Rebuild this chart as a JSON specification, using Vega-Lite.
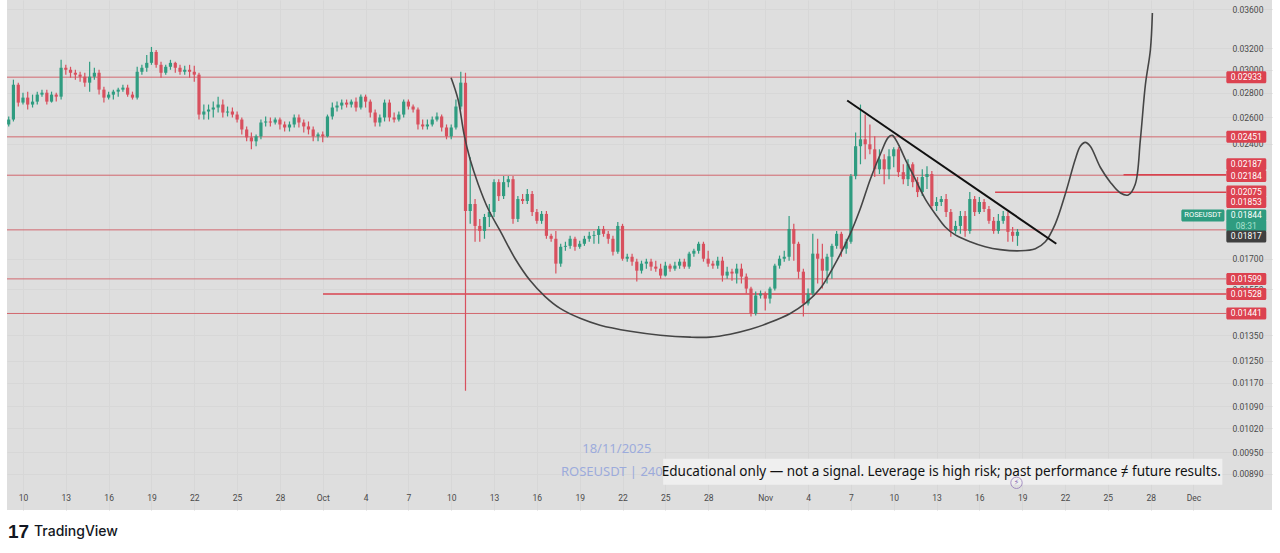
{"$schema":"https://vega.github.io/schema/vega-lite/v6.json","width":1265,"height":510,"autosize":{"type":"none"},"padding":{"left":7,"top":0,"right":8,"bottom":43},"background":"#ffffff","view":{"fill":"#dedede","stroke":null},"config":{"text":{"font":"Roboto"}},"datasets":{"candles":[
{"d":-1,"o":0.02544,"c":0.02582,"h":0.02606,"l":0.02529},{"d":-0.67,"o":0.02582,"c":0.02867,"h":0.02911,"l":0.02567},{"d":-0.33,"o":0.02867,"c":0.02717,"h":0.02885,"l":0.02685},{"d":0,"o":0.02717,"c":0.02758,"h":0.02799,"l":0.02701},{"d":0.33,"o":0.02758,"c":0.02701,"h":0.02808,"l":0.02661},{"d":0.67,"o":0.02701,"c":0.02725,"h":0.02783,"l":0.02677},{"d":1,"o":0.02725,"c":0.02783,"h":0.02808,"l":0.02701},{"d":1.33,"o":0.02783,"c":0.02799,"h":0.02825,"l":0.02766},{"d":1.67,"o":0.02799,"c":0.02725,"h":0.02825,"l":0.02701},{"d":2,"o":0.02725,"c":0.02783,"h":0.02808,"l":0.02717},{"d":2.33,"o":0.02783,"c":0.02766,"h":0.02799,"l":0.02725},{"d":2.67,"o":0.02766,"c":0.03017,"h":0.0309,"l":0.02742},{"d":3,"o":0.03017,"c":0.02999,"h":0.03044,"l":0.02955},{"d":3.33,"o":0.02999,"c":0.02972,"h":0.03026,"l":0.02928},{"d":3.67,"o":0.02972,"c":0.02955,"h":0.02999,"l":0.02911},{"d":4,"o":0.02955,"c":0.02937,"h":0.02981,"l":0.02893},{"d":4.33,"o":0.02937,"c":0.02885,"h":0.02972,"l":0.0285},{"d":4.67,"o":0.02885,"c":0.02937,"h":0.03071,"l":0.02808},{"d":5,"o":0.02937,"c":0.02972,"h":0.03017,"l":0.02911},{"d":5.33,"o":0.02972,"c":0.02825,"h":0.02999,"l":0.02783},{"d":5.67,"o":0.02825,"c":0.02758,"h":0.0285,"l":0.02717},{"d":6,"o":0.02758,"c":0.02783,"h":0.02808,"l":0.02742},{"d":6.33,"o":0.02783,"c":0.02808,"h":0.02825,"l":0.02742},{"d":6.67,"o":0.02808,"c":0.02825,"h":0.02842,"l":0.02766},{"d":7,"o":0.02825,"c":0.02842,"h":0.02867,"l":0.02808},{"d":7.33,"o":0.02842,"c":0.02783,"h":0.02867,"l":0.02766},{"d":7.67,"o":0.02783,"c":0.02758,"h":0.02808,"l":0.02742},{"d":8,"o":0.02758,"c":0.02981,"h":0.03026,"l":0.02742},{"d":8.33,"o":0.02981,"c":0.03017,"h":0.03044,"l":0.02955},{"d":8.67,"o":0.03017,"c":0.03062,"h":0.03136,"l":0.02981},{"d":9,"o":0.03062,"c":0.03164,"h":0.03212,"l":0.03044},{"d":9.33,"o":0.03164,"c":0.03044,"h":0.03183,"l":0.03017},{"d":9.67,"o":0.03044,"c":0.02972,"h":0.03071,"l":0.02928},{"d":10,"o":0.02972,"c":0.03026,"h":0.03044,"l":0.02955},{"d":10.33,"o":0.03026,"c":0.03062,"h":0.0309,"l":0.02999},{"d":10.67,"o":0.03062,"c":0.03017,"h":0.03071,"l":0.02972},{"d":11,"o":0.03017,"c":0.02981,"h":0.03044,"l":0.02955},{"d":11.33,"o":0.02981,"c":0.02999,"h":0.03035,"l":0.02955},{"d":11.67,"o":0.02999,"c":0.02981,"h":0.03044,"l":0.02928},{"d":12,"o":0.02981,"c":0.02955,"h":0.03035,"l":0.02893},{"d":12.33,"o":0.02955,"c":0.02621,"h":0.02972,"l":0.02582},{"d":12.67,"o":0.02621,"c":0.02645,"h":0.02701,"l":0.02582},{"d":13,"o":0.02645,"c":0.02661,"h":0.02701,"l":0.02582},{"d":13.33,"o":0.02661,"c":0.02677,"h":0.02725,"l":0.02598},{"d":13.67,"o":0.02677,"c":0.02701,"h":0.02766,"l":0.02637},{"d":14,"o":0.02701,"c":0.02637,"h":0.02742,"l":0.02598},{"d":14.33,"o":0.02637,"c":0.02645,"h":0.02685,"l":0.02606},{"d":14.67,"o":0.02645,"c":0.02621,"h":0.02677,"l":0.02598},{"d":15,"o":0.02621,"c":0.02582,"h":0.02645,"l":0.02559},{"d":15.33,"o":0.02582,"c":0.02506,"h":0.02598,"l":0.02469},{"d":15.67,"o":0.02506,"c":0.02447,"h":0.02529,"l":0.02418},{"d":16,"o":0.02447,"c":0.02418,"h":0.02484,"l":0.02361},{"d":16.33,"o":0.02418,"c":0.02455,"h":0.02469,"l":0.02383},{"d":16.67,"o":0.02455,"c":0.02559,"h":0.02582,"l":0.02433},{"d":17,"o":0.02559,"c":0.02567,"h":0.02606,"l":0.02529},{"d":17.33,"o":0.02567,"c":0.02559,"h":0.02598,"l":0.02529},{"d":17.67,"o":0.02559,"c":0.02582,"h":0.02598,"l":0.02544},{"d":18,"o":0.02582,"c":0.02544,"h":0.02598,"l":0.02506},{"d":18.33,"o":0.02544,"c":0.02521,"h":0.02567,"l":0.02491},{"d":18.67,"o":0.02521,"c":0.02544,"h":0.02567,"l":0.02491},{"d":19,"o":0.02544,"c":0.02598,"h":0.02621,"l":0.02521},{"d":19.33,"o":0.02598,"c":0.02559,"h":0.02621,"l":0.02521},{"d":19.67,"o":0.02559,"c":0.02529,"h":0.02582,"l":0.02484},{"d":20,"o":0.02529,"c":0.02506,"h":0.02567,"l":0.02469},{"d":20.33,"o":0.02506,"c":0.02455,"h":0.02529,"l":0.02418},{"d":20.67,"o":0.02455,"c":0.02469,"h":0.02484,"l":0.02418},{"d":21,"o":0.02469,"c":0.02455,"h":0.02491,"l":0.02411},{"d":21.33,"o":0.02455,"c":0.02606,"h":0.02621,"l":0.02447},{"d":21.67,"o":0.02606,"c":0.02677,"h":0.02717,"l":0.02582},{"d":22,"o":0.02677,"c":0.02693,"h":0.02725,"l":0.02645},{"d":22.33,"o":0.02693,"c":0.02717,"h":0.02742,"l":0.02661},{"d":22.67,"o":0.02717,"c":0.02701,"h":0.02742,"l":0.02677},{"d":23,"o":0.02701,"c":0.02725,"h":0.02742,"l":0.02677},{"d":23.33,"o":0.02725,"c":0.02677,"h":0.02758,"l":0.02645},{"d":23.67,"o":0.02677,"c":0.02766,"h":0.02783,"l":0.02661},{"d":24,"o":0.02766,"c":0.02725,"h":0.02783,"l":0.02677},{"d":24.33,"o":0.02725,"c":0.02637,"h":0.02742,"l":0.02598},{"d":24.67,"o":0.02637,"c":0.02559,"h":0.02661,"l":0.02529},{"d":25,"o":0.02559,"c":0.02598,"h":0.02621,"l":0.02529},{"d":25.33,"o":0.02598,"c":0.02717,"h":0.02742,"l":0.02567},{"d":25.67,"o":0.02717,"c":0.02598,"h":0.02742,"l":0.02567},{"d":26,"o":0.02598,"c":0.02582,"h":0.02637,"l":0.02559},{"d":26.33,"o":0.02582,"c":0.02621,"h":0.02645,"l":0.02567},{"d":26.67,"o":0.02621,"c":0.02725,"h":0.02742,"l":0.02598},{"d":27,"o":0.02725,"c":0.02685,"h":0.02742,"l":0.02661},{"d":27.33,"o":0.02685,"c":0.02661,"h":0.02701,"l":0.02637},{"d":27.67,"o":0.02661,"c":0.02544,"h":0.02677,"l":0.02506},{"d":28,"o":0.02544,"c":0.02529,"h":0.02582,"l":0.02506},{"d":28.33,"o":0.02529,"c":0.02544,"h":0.02582,"l":0.02506},{"d":28.67,"o":0.02544,"c":0.02582,"h":0.02606,"l":0.02529},{"d":29,"o":0.02582,"c":0.02606,"h":0.02637,"l":0.02567},{"d":29.33,"o":0.02606,"c":0.02521,"h":0.02621,"l":0.02491},{"d":29.67,"o":0.02521,"c":0.02455,"h":0.02544,"l":0.02433},{"d":30,"o":0.02455,"c":0.02521,"h":0.02544,"l":0.02433},{"d":30.33,"o":0.02521,"c":0.02685,"h":0.02742,"l":0.02506},{"d":30.67,"o":0.02685,"c":0.02885,"h":0.02981,"l":0.02661},{"d":31,"o":0.02885,"c":0.01961,"h":0.02972,"l":0.01142},{"d":31.33,"o":0.01961,"c":0.02003,"h":0.02305,"l":0.01887},{"d":31.67,"o":0.02003,"c":0.01875,"h":0.02033,"l":0.01788},{"d":32,"o":0.01875,"c":0.01847,"h":0.01915,"l":0.01788},{"d":32.33,"o":0.01847,"c":0.01926,"h":0.01944,"l":0.01804},{"d":32.67,"o":0.01926,"c":0.01955,"h":0.02003,"l":0.01869},{"d":33,"o":0.01955,"c":0.02139,"h":0.02158,"l":0.01926},{"d":33.33,"o":0.02139,"c":0.02051,"h":0.02158,"l":0.02021},{"d":33.67,"o":0.02051,"c":0.02139,"h":0.02178,"l":0.02033},{"d":34,"o":0.02139,"c":0.02158,"h":0.02178,"l":0.02107},{"d":34.33,"o":0.02158,"c":0.01915,"h":0.02178,"l":0.01887},{"d":34.67,"o":0.01915,"c":0.02033,"h":0.02051,"l":0.01898},{"d":35,"o":0.02033,"c":0.02021,"h":0.02064,"l":0.02003},{"d":35.33,"o":0.02021,"c":0.02064,"h":0.02095,"l":0.02003},{"d":35.67,"o":0.02064,"c":0.01955,"h":0.02083,"l":0.01932},{"d":36,"o":0.01955,"c":0.01904,"h":0.01973,"l":0.01887},{"d":36.33,"o":0.01904,"c":0.01944,"h":0.01961,"l":0.01887},{"d":36.67,"o":0.01944,"c":0.0182,"h":0.01961,"l":0.01804},{"d":37,"o":0.0182,"c":0.01804,"h":0.01831,"l":0.01788},{"d":37.33,"o":0.01804,"c":0.01674,"h":0.01847,"l":0.01625},{"d":37.67,"o":0.01674,"c":0.01761,"h":0.01777,"l":0.01659},{"d":38,"o":0.01761,"c":0.01766,"h":0.01788,"l":0.0174},{"d":38.33,"o":0.01766,"c":0.01804,"h":0.0182,"l":0.01751},{"d":38.67,"o":0.01804,"c":0.01761,"h":0.01815,"l":0.0174},{"d":39,"o":0.01761,"c":0.01777,"h":0.01793,"l":0.01751},{"d":39.33,"o":0.01777,"c":0.01804,"h":0.0182,"l":0.01766},{"d":39.67,"o":0.01804,"c":0.0182,"h":0.01842,"l":0.01788},{"d":40,"o":0.0182,"c":0.01825,"h":0.01847,"l":0.01777},{"d":40.33,"o":0.01825,"c":0.01858,"h":0.01875,"l":0.01777},{"d":40.67,"o":0.01858,"c":0.01831,"h":0.01875,"l":0.01815},{"d":41,"o":0.01831,"c":0.01804,"h":0.01847,"l":0.01777},{"d":41.33,"o":0.01804,"c":0.01735,"h":0.0182,"l":0.01715},{"d":41.67,"o":0.01735,"c":0.01875,"h":0.01898,"l":0.01725},{"d":42,"o":0.01875,"c":0.01699,"h":0.01887,"l":0.01689},{"d":42.33,"o":0.01699,"c":0.01709,"h":0.01725,"l":0.01684},{"d":42.67,"o":0.01709,"c":0.01684,"h":0.01725,"l":0.01664},{"d":43,"o":0.01684,"c":0.01639,"h":0.01699,"l":0.01586},{"d":43.33,"o":0.01639,"c":0.01674,"h":0.01689,"l":0.01625},{"d":43.67,"o":0.01674,"c":0.01684,"h":0.01699,"l":0.01649},{"d":44,"o":0.01684,"c":0.01659,"h":0.01699,"l":0.01639},{"d":44.33,"o":0.01659,"c":0.01649,"h":0.01689,"l":0.01634},{"d":44.67,"o":0.01649,"c":0.01615,"h":0.01674,"l":0.016},{"d":45,"o":0.01615,"c":0.01664,"h":0.01684,"l":0.0161},{"d":45.33,"o":0.01664,"c":0.01649,"h":0.01674,"l":0.01634},{"d":45.67,"o":0.01649,"c":0.01664,"h":0.01684,"l":0.01639},{"d":46,"o":0.01664,"c":0.01684,"h":0.01699,"l":0.01649},{"d":46.33,"o":0.01684,"c":0.01659,"h":0.01699,"l":0.01649},{"d":46.67,"o":0.01659,"c":0.01725,"h":0.01735,"l":0.01649},{"d":47,"o":0.01725,"c":0.0174,"h":0.01751,"l":0.01709},{"d":47.33,"o":0.0174,"c":0.01777,"h":0.01788,"l":0.01725},{"d":47.67,"o":0.01777,"c":0.01699,"h":0.01788,"l":0.01684},{"d":48,"o":0.01699,"c":0.01674,"h":0.0174,"l":0.01659},{"d":48.33,"o":0.01674,"c":0.01664,"h":0.01689,"l":0.01649},{"d":48.67,"o":0.01664,"c":0.01689,"h":0.01709,"l":0.01649},{"d":49,"o":0.01689,"c":0.01615,"h":0.01709,"l":0.01586},{"d":49.33,"o":0.01615,"c":0.01634,"h":0.01659,"l":0.016},{"d":49.67,"o":0.01634,"c":0.01625,"h":0.01649,"l":0.0159},{"d":50,"o":0.01625,"c":0.01649,"h":0.01674,"l":0.01577},{"d":50.33,"o":0.01649,"c":0.0161,"h":0.01674,"l":0.01577},{"d":50.67,"o":0.0161,"c":0.01553,"h":0.01625,"l":0.0153},{"d":51,"o":0.01553,"c":0.01441,"h":0.01562,"l":0.01428},{"d":51.33,"o":0.01441,"c":0.01521,"h":0.01539,"l":0.01432},{"d":51.67,"o":0.01521,"c":0.0153,"h":0.01544,"l":0.01507},{"d":52,"o":0.0153,"c":0.01507,"h":0.01539,"l":0.01454},{"d":52.33,"o":0.01507,"c":0.01553,"h":0.01562,"l":0.01485},{"d":52.67,"o":0.01553,"c":0.01664,"h":0.01674,"l":0.01544},{"d":53,"o":0.01664,"c":0.01699,"h":0.01715,"l":0.01649},{"d":53.33,"o":0.01699,"c":0.01709,"h":0.0174,"l":0.01684},{"d":53.67,"o":0.01709,"c":0.01858,"h":0.01932,"l":0.01689},{"d":54,"o":0.01858,"c":0.01777,"h":0.01887,"l":0.01689},{"d":54.33,"o":0.01777,"c":0.01634,"h":0.01788,"l":0.016},{"d":54.67,"o":0.01634,"c":0.01485,"h":0.01649,"l":0.01428},{"d":55,"o":0.01485,"c":0.0153,"h":0.01553,"l":0.01476},{"d":55.33,"o":0.0153,"c":0.01725,"h":0.01831,"l":0.01521},{"d":55.67,"o":0.01725,"c":0.01699,"h":0.01804,"l":0.01577},{"d":56,"o":0.01699,"c":0.01639,"h":0.01777,"l":0.01553},{"d":56.33,"o":0.01639,"c":0.01709,"h":0.01725,"l":0.01577},{"d":56.67,"o":0.01709,"c":0.01766,"h":0.01777,"l":0.016},{"d":57,"o":0.01766,"c":0.01831,"h":0.01847,"l":0.01751},{"d":57.33,"o":0.01831,"c":0.01751,"h":0.01842,"l":0.01709},{"d":57.67,"o":0.01751,"c":0.01788,"h":0.01804,"l":0.01725},{"d":58,"o":0.01788,"c":0.02178,"h":0.02192,"l":0.01777},{"d":58.33,"o":0.02178,"c":0.02383,"h":0.02484,"l":0.02158},{"d":58.67,"o":0.02383,"c":0.02433,"h":0.02701,"l":0.02257},{"d":59,"o":0.02433,"c":0.02397,"h":0.02621,"l":0.02291},{"d":59.33,"o":0.02397,"c":0.02361,"h":0.02544,"l":0.02326},{"d":59.67,"o":0.02361,"c":0.02223,"h":0.02455,"l":0.02172},{"d":60,"o":0.02223,"c":0.02291,"h":0.02361,"l":0.02192},{"d":60.33,"o":0.02291,"c":0.02223,"h":0.02326,"l":0.02126},{"d":60.67,"o":0.02223,"c":0.02312,"h":0.02361,"l":0.02158},{"d":61,"o":0.02312,"c":0.02361,"h":0.02376,"l":0.02237},{"d":61.33,"o":0.02361,"c":0.02204,"h":0.02376,"l":0.02172},{"d":61.67,"o":0.02204,"c":0.02158,"h":0.02257,"l":0.02126},{"d":62,"o":0.02158,"c":0.02257,"h":0.02291,"l":0.02114},{"d":62.33,"o":0.02257,"c":0.02139,"h":0.02271,"l":0.02107},{"d":62.67,"o":0.02139,"c":0.02076,"h":0.02172,"l":0.02045},{"d":63,"o":0.02076,"c":0.02172,"h":0.02223,"l":0.02051},{"d":63.33,"o":0.02172,"c":0.02192,"h":0.02244,"l":0.02095},{"d":63.67,"o":0.02192,"c":0.01991,"h":0.02211,"l":0.01973},{"d":64,"o":0.01991,"c":0.02015,"h":0.02045,"l":0.01961},{"d":64.33,"o":0.02015,"c":0.02033,"h":0.02051,"l":0.01991},{"d":64.67,"o":0.02033,"c":0.01955,"h":0.02064,"l":0.01926},{"d":65,"o":0.01955,"c":0.01847,"h":0.01973,"l":0.01815},{"d":65.33,"o":0.01847,"c":0.01875,"h":0.01904,"l":0.01831},{"d":65.67,"o":0.01875,"c":0.01932,"h":0.01961,"l":0.01831},{"d":66,"o":0.01932,"c":0.01847,"h":0.01961,"l":0.01815},{"d":66.33,"o":0.01847,"c":0.02033,"h":0.02076,"l":0.01831},{"d":66.67,"o":0.02033,"c":0.01955,"h":0.02051,"l":0.01932},{"d":67,"o":0.01955,"c":0.02015,"h":0.02045,"l":0.01944},{"d":67.33,"o":0.02015,"c":0.01973,"h":0.02033,"l":0.01955},{"d":67.67,"o":0.01973,"c":0.01904,"h":0.01991,"l":0.01887},{"d":68,"o":0.01904,"c":0.01847,"h":0.01926,"l":0.01831},{"d":68.33,"o":0.01847,"c":0.01904,"h":0.01944,"l":0.01831},{"d":68.67,"o":0.01904,"c":0.01932,"h":0.01961,"l":0.01887},{"d":69,"o":0.01932,"c":0.01842,"h":0.01955,"l":0.01788},{"d":69.33,"o":0.01842,"c":0.0182,"h":0.01869,"l":0.01788},{"d":69.67,"o":0.0182,"c":0.01842,"h":0.01858,"l":0.01766}
],"levels":[{"d":-1.12,"e":84.3,"p":0.02933,"kind":"thin"},{"d":-1.12,"e":84.3,"p":0.02451,"kind":"thin"},{"d":-1.12,"e":84.3,"p":0.02184,"kind":"thin"},{"d":77.1,"e":84.3,"p":0.02187,"kind":"thick"},{"d":68.1,"e":84.3,"p":0.02075,"kind":"thick"},{"d":-1.12,"e":84.3,"p":0.01853,"kind":"thin"},{"d":-1.12,"e":84.3,"p":0.01599,"kind":"thin"},{"d":21.02,"e":84.3,"p":0.01528,"kind":"thick"},{"d":-1.12,"e":84.3,"p":0.01441,"kind":"thin"}],
"tags":[{"d":84.3,"e":87.1,"m":85.7,"p":0.02933,"t":"0.02933","kind":"level"},{"d":84.3,"e":87.1,"m":85.7,"p":0.02451,"t":"0.02451","kind":"level"},{"d":84.3,"e":87.1,"m":85.7,"p":0.02257,"t":"0.02187","kind":"level"},{"d":84.3,"e":87.1,"m":85.7,"p":0.02178,"t":"0.02184","kind":"level"},{"d":84.3,"e":87.1,"m":85.7,"p":0.02079,"t":"0.02075","kind":"level"},{"d":84.3,"e":87.1,"m":85.7,"p":0.02015,"t":"0.01853","kind":"level"},{"d":84.3,"e":87.1,"m":85.7,"p":0.01935,"t":"0.01844","kind":"price"},{"d":84.3,"e":87.1,"m":85.7,"p":0.01875,"t":"08:31","kind":"price"},{"d":81.15,"e":84.17,"m":82.66,"p":0.01935,"t":"ROSEUSDT","kind":"price"},{"d":84.3,"e":87.1,"m":85.7,"p":0.01817,"t":"0.01817","kind":"close"},{"d":84.3,"e":87.1,"m":85.7,"p":0.01599,"t":"0.01599","kind":"level"},{"d":84.3,"e":87.1,"m":85.7,"p":0.01528,"t":"0.01528","kind":"level"},{"d":84.3,"e":87.1,"m":85.7,"p":0.01441,"t":"0.01441","kind":"level"}],
"curve":[{"d":29.99,"p":0.02928},{"d":30.48,"p":0.02742},{"d":30.9,"p":0.02469},{"d":31.32,"p":0.02291},{"d":31.89,"p":0.02126},{"d":32.59,"p":0.01973},{"d":33.43,"p":0.01847},{"d":34.48,"p":0.01699},{"d":35.53,"p":0.01591},{"d":36.58,"p":0.01516},{"d":37.63,"p":0.01463},{"d":39.03,"p":0.0142},{"d":40.43,"p":0.01391},{"d":42.54,"p":0.01366},{"d":44.64,"p":0.0135},{"d":46.74,"p":0.01342},{"d":48.14,"p":0.01342},{"d":49.54,"p":0.01354},{"d":50.95,"p":0.01374},{"d":52.35,"p":0.01403},{"d":53.75,"p":0.01441},{"d":54.8,"p":0.01485},{"d":55.85,"p":0.01553},{"d":56.9,"p":0.01674},{"d":57.95,"p":0.01831},{"d":58.65,"p":0.01973},{"d":59.36,"p":0.02158},{"d":60.06,"p":0.02326},{"d":60.62,"p":0.02447},{"d":60.9,"p":0.02462},{"d":61.32,"p":0.02397},{"d":61.81,"p":0.02291},{"d":62.51,"p":0.02158},{"d":63.21,"p":0.02033},{"d":63.91,"p":0.01944},{"d":64.61,"p":0.01869},{"d":65.31,"p":0.01825},{"d":66.36,"p":0.01788},{"d":67.41,"p":0.01761},{"d":68.46,"p":0.01746},{"d":69.87,"p":0.0174},{"d":70.92,"p":0.01751},{"d":71.62,"p":0.01788},{"d":72.32,"p":0.01887},{"d":73.02,"p":0.02064},{"d":73.72,"p":0.02291},{"d":74.07,"p":0.02383},{"d":74.42,"p":0.02411},{"d":74.77,"p":0.02383},{"d":75.47,"p":0.02237},{"d":76.17,"p":0.02139},{"d":76.88,"p":0.0207},{"d":77.43,"p":0.02058},{"d":77.92,"p":0.02126},{"d":78.28,"p":0.02433},{"d":78.63,"p":0.02867},{"d":78.98,"p":0.03183},{"d":79.12,"p":0.03557}]},
"encoding":{"x":{"field":"d","type":"quantitative","title":null,"scale":{"domain":[-1.12,87.5],"nice":false,"zero":false,"padding":0},"axis":{"title":null,"values":[0,3,6,9,12,15,18,21,24,27,30,33,36,39,42,45,48,52,55,58,61,64,67,70,73,76,79,82],"labelExpr":"datum.value==21?'Oct':datum.value==52?'Nov':datum.value==82?'Dec':datum.value<21?''+(10+datum.value):datum.value<52?''+(datum.value-20):''+(datum.value-51)","offset":-22,"domain":false,"ticks":false,"labelPadding":5,"labelFont":"Roboto","labelFontSize":8.5,"labelColor":"#4a4a4a","labelFlush":false,"grid":true,"gridColor":"#d7d7d7","gridWidth":1}},"y":{"field":"p","type":"quantitative","title":null,"scale":{"type":"log","domain":[0.00798,0.03699],"nice":false,"padding":0},"axis":{"title":null,"orient":"right","offset":-46,"values":[0.036,0.032,0.03,0.028,0.026,0.024,0.017,0.0155,0.0135,0.0125,0.0117,0.0109,0.0102,0.0095,0.0089],"format":".5f","domain":false,"ticks":false,"labelPadding":6,"labelFont":"Roboto","labelFontSize":8.5,"labelColor":"#4a4a4a","grid":true,"gridColor":"#d7d7d7","gridWidth":1}}},
"layer":[
{"data":{"name":"levels"},"mark":{"type":"rule"},"encoding":{"x2":{"field":"e"},"color":{"condition":{"test":"datum.kind=='thick'","value":"#d8434f"},"value":"#d2686f"},"strokeWidth":{"condition":{"test":"datum.kind=='thick'","value":1.6},"value":1}}},
{"data":{"name":"candles"},"mark":{"type":"rule","strokeWidth":1.2},"encoding":{"y":{"field":"l","type":"quantitative","title":null},"y2":{"field":"h"},"color":{"condition":{"test":"datum.c>=datum.o","value":"#2f9c80"},"value":"#d8505e"}}},
{"data":{"name":"candles"},"mark":{"type":"rule","strokeWidth":3.2},"encoding":{"y":{"field":"o","type":"quantitative","title":null},"y2":{"field":"c"},"color":{"condition":{"test":"datum.c>=datum.o","value":"#2f9c80"},"value":"#d8505e"}}},
{"data":{"name":"curve"},"mark":{"type":"line","interpolate":"catmull-rom","stroke":"#454545","strokeWidth":1.6}},
{"data":{"values":[{"d":57.74,"p":0.02734},{"d":72.39,"p":0.01777}]},"mark":{"type":"line","stroke":"#111111","strokeWidth":2}},
{"data":{"name":"tags"},"mark":{"type":"bar","height":12,"cornerRadius":1.5,"orient":"horizontal"},"encoding":{"x2":{"field":"e"},"color":{"field":"kind","type":"nominal","legend":null,"scale":{"domain":["level","price","close"],"range":["#dc4250","#2f9c80","#3f3f3f"]}}}},
{"data":{"name":"tags"},"mark":{"type":"text","align":"center","baseline":"middle"},"encoding":{"x":{"field":"m","type":"quantitative","title":null},"text":{"field":"t"},"size":{"condition":{"test":"datum.t=='ROSEUSDT'","value":7.5},"value":8.5},"color":{"condition":{"test":"datum.t=='08:31'","value":"#a8e0cc"},"value":"#ffffff"}}},
{"data":{"values":[{"d":44.85,"e":84.02,"lo":0.00861,"hi":0.00931}]},"mark":{"type":"rect","color":"#efefef"},"encoding":{"x2":{"field":"e"},"y":{"field":"lo","type":"quantitative","title":null},"y2":{"field":"hi"}}},
{"data":{"values":[{"d":64.33,"p":0.00895,"t":"Educational only — not a signal. Leverage is high risk; past performance ≠ future results."}]},"mark":{"type":"text","font":"Noto Sans","fontSize":13.5,"color":"#111111","align":"center","baseline":"middle"},"encoding":{"text":{"field":"t"}}},
{"data":{"values":[{"d":41.6,"p":0.00959,"t":"18/11/2025"},{"d":41.25,"p":0.00895,"t":"ROSEUSDT | 240"}]},"mark":{"type":"text","font":"Noto Sans","fontSize":13,"color":"#9cabdc","align":"center","baseline":"middle"},"encoding":{"text":{"field":"t"}}},
{"data":{"values":[{"d":69.6,"p":0.00866}]},"mark":{"type":"point","shape":"circle","size":130,"stroke":"#8a6bb5","strokeWidth":1,"filled":false}},
{"data":{"values":[{"d":69.6,"p":0.00866,"t":"⚡"}]},"mark":{"type":"text","font":"DejaVu Sans","fontSize":8,"color":"#8a6bb5","align":"center","baseline":"middle"},"encoding":{"text":{"field":"t"}}},
{"data":{"values":[{"d":-1.05,"p":0.00747,"t":"17"}]},"mark":{"type":"text","font":"Liberation Sans","fontWeight":"bold","fontSize":19,"color":"#131722","align":"left","baseline":"middle"},"encoding":{"text":{"field":"t"}}},
{"data":{"values":[{"d":0.77,"p":0.00747,"t":"TradingView"}]},"mark":{"type":"text","font":"Inter","fontWeight":500,"fontSize":14,"color":"#131722","align":"left","baseline":"middle"},"encoding":{"text":{"field":"t"}}}
]}
